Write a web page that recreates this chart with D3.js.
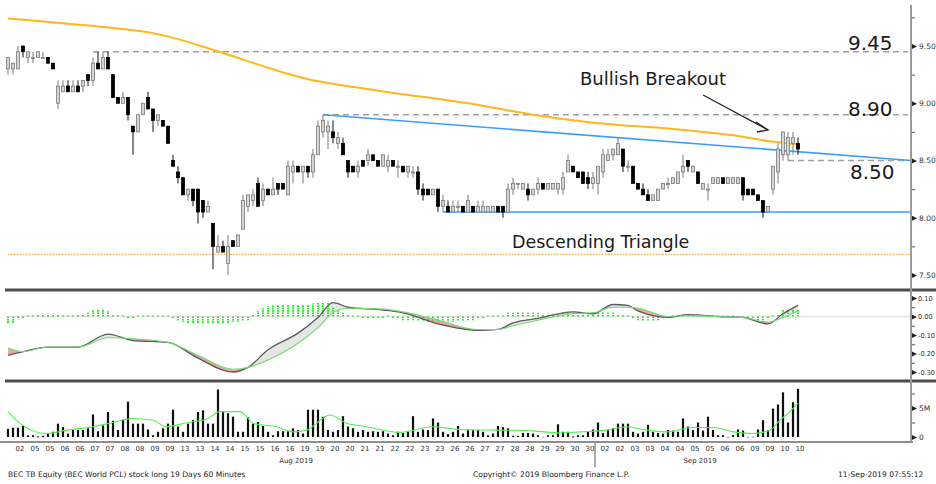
<!DOCTYPE html>
<html>
<head>
<meta charset="utf-8">
<script src="https://cdn.jsdelivr.net/npm/d3@7"></script>
<style>
  body { margin: 0; background: #fff; }
  svg { display: block; }
  text { font-family: "DejaVu Sans", sans-serif; }
</style>
</head>
<body>
<svg id="chart"></svg>
<script>
// 60 minute bars, BEC TB, 02-Aug-2019 .. 10-Sep-2019
const openP = [9.30,9.30,9.30,9.50,9.40,9.40,9.40,9.40,9.40,9.35,
  9.00,9.10,9.15,9.10,9.15,9.15,9.25,9.20,9.35,9.30,
  9.40,9.25,9.05,9.00,9.05,8.80,8.75,8.90,9.05,8.95,
  8.85,8.85,8.80,8.50,8.40,8.35,8.20,8.25,8.25,8.15,
  8.05,7.95,7.70,7.75,7.60,7.80,7.75,7.90,8.10,8.15,
  8.30,8.15,8.25,8.20,8.30,8.30,8.20,8.40,8.45,8.40,
  8.45,8.40,8.55,8.75,8.75,8.75,8.65,8.65,8.50,8.45,
  8.40,8.50,8.50,8.55,8.50,8.45,8.45,8.50,8.45,8.45,
  8.40,8.40,8.40,8.25,8.25,8.20,8.25,8.10,8.10,8.05,
  8.10,8.10,8.05,8.10,8.05,8.05,8.05,8.05,8.10,8.10,
  8.05,8.25,8.30,8.25,8.25,8.20,8.25,8.30,8.25,8.25,
  8.25,8.25,8.40,8.45,8.40,8.40,8.35,8.30,8.30,8.40,
  8.50,8.55,8.55,8.60,8.45,8.45,8.30,8.25,8.20,8.15,
  8.15,8.25,8.30,8.30,8.30,8.40,8.50,8.40,8.40,8.25,
  8.25,8.30,8.30,8.35,8.30,8.30,8.30,8.35,8.25,8.25,
  8.20,8.15,8.05,8.25,8.40,8.55,8.55,8.65,8.65];
const highP = [9.40,9.35,9.50,9.50,9.45,9.45,9.45,9.45,9.40,9.35,
  9.20,9.20,9.20,9.20,9.20,9.20,9.25,9.40,9.45,9.45,
  9.45,9.25,9.05,9.10,9.05,8.80,8.90,9.00,9.10,8.95,
  8.90,8.85,8.80,8.55,8.45,8.35,8.25,8.25,8.25,8.15,
  8.15,7.95,7.85,7.80,7.85,7.80,7.85,8.20,8.20,8.25,
  8.35,8.30,8.25,8.35,8.30,8.30,8.50,8.50,8.45,8.45,
  8.45,8.60,8.85,8.90,8.85,8.85,8.75,8.70,8.50,8.45,
  8.50,8.50,8.60,8.55,8.50,8.55,8.55,8.50,8.50,8.45,
  8.45,8.45,8.45,8.30,8.25,8.25,8.25,8.20,8.15,8.15,
  8.15,8.10,8.20,8.10,8.15,8.15,8.10,8.10,8.10,8.10,
  8.30,8.35,8.30,8.30,8.30,8.25,8.35,8.30,8.30,8.30,
  8.30,8.40,8.55,8.45,8.40,8.40,8.40,8.40,8.45,8.60,
  8.60,8.60,8.70,8.60,8.50,8.45,8.30,8.30,8.25,8.20,
  8.25,8.30,8.35,8.35,8.40,8.55,8.50,8.45,8.40,8.30,
  8.30,8.35,8.35,8.35,8.35,8.35,8.35,8.35,8.25,8.25,
  8.20,8.15,8.10,8.45,8.65,8.75,8.75,8.75,8.70];
const lowP = [9.25,9.25,9.30,9.40,9.35,9.35,9.40,9.40,9.35,9.30,
  8.95,9.10,9.10,9.10,9.10,9.10,9.15,9.15,9.30,9.30,
  9.30,9.05,9.00,9.00,8.85,8.55,8.75,8.90,8.95,8.75,
  8.80,8.80,8.65,8.45,8.30,8.20,8.15,8.10,7.95,8.00,
  8.05,7.55,7.70,7.70,7.50,7.75,7.75,7.90,8.05,8.10,
  8.10,8.10,8.20,8.20,8.20,8.25,8.20,8.30,8.40,8.30,
  8.35,8.35,8.55,8.70,8.60,8.65,8.60,8.55,8.35,8.40,
  8.35,8.45,8.45,8.50,8.45,8.45,8.40,8.45,8.35,8.40,
  8.35,8.35,8.20,8.15,8.20,8.20,8.05,8.05,8.05,8.05,
  8.05,8.05,8.05,8.05,8.05,8.05,8.05,8.05,8.05,8.00,
  8.05,8.20,8.25,8.25,8.15,8.20,8.20,8.25,8.25,8.25,
  8.20,8.20,8.40,8.40,8.35,8.30,8.25,8.25,8.20,8.35,
  8.50,8.50,8.55,8.40,8.40,8.30,8.25,8.20,8.15,8.15,
  8.15,8.25,8.25,8.30,8.30,8.35,8.40,8.40,8.30,8.25,
  8.15,8.30,8.30,8.30,8.30,8.30,8.30,8.15,8.20,8.20,
  8.15,8.00,8.05,8.20,8.30,8.50,8.50,8.55,8.55];
const closeP = [9.40,9.35,9.45,9.45,9.45,9.40,9.45,9.40,9.35,9.30,
  9.15,9.15,9.10,9.15,9.10,9.20,9.20,9.35,9.30,9.40,
  9.30,9.05,9.00,9.05,8.90,8.75,8.90,9.00,8.95,8.85,
  8.90,8.80,8.65,8.45,8.35,8.20,8.25,8.15,8.05,8.05,
  8.10,7.75,7.75,7.70,7.75,7.75,7.85,8.15,8.20,8.20,
  8.10,8.25,8.20,8.25,8.25,8.25,8.45,8.45,8.40,8.45,
  8.40,8.55,8.80,8.85,8.80,8.70,8.70,8.55,8.40,8.40,
  8.45,8.45,8.55,8.50,8.45,8.55,8.50,8.45,8.45,8.40,
  8.45,8.40,8.25,8.20,8.20,8.25,8.10,8.15,8.05,8.10,
  8.10,8.05,8.15,8.05,8.10,8.10,8.10,8.10,8.05,8.05,
  8.25,8.30,8.30,8.30,8.20,8.25,8.30,8.25,8.30,8.30,
  8.30,8.35,8.50,8.40,8.35,8.30,8.30,8.35,8.45,8.55,
  8.55,8.60,8.65,8.45,8.45,8.30,8.25,8.20,8.15,8.20,
  8.25,8.30,8.30,8.35,8.40,8.45,8.45,8.45,8.30,8.30,
  8.25,8.35,8.35,8.30,8.35,8.35,8.35,8.20,8.20,8.20,
  8.15,8.05,8.10,8.45,8.60,8.75,8.70,8.70,8.60];

// volume, millions
const volume = [1.4,1.6,1.6,1.9,0.3,0.3,0.1,0.2,0.6,0.9,
  2.3,1.7,0.6,1.2,1.2,1.2,1.5,3.9,1.0,2.0,
  4.3,2.8,1.2,3.0,6.1,2.3,2.3,2.3,1.3,0.3,
  0.9,1.5,2.3,4.7,1.8,0.9,2.3,2.9,4.3,4.6,
  2.3,2.3,8.2,4.3,4.1,3.5,0.9,0.9,3.4,2.3,
  2.6,1.9,0.9,0.3,1.0,1.0,1.0,1.5,1.2,0.6,
  4.7,4.7,4.7,3.5,1.2,0.9,1.2,3.6,1.8,1.5,
  0.9,1.2,0.9,1.0,0.9,1.0,0.6,0.3,0.9,
  0.7,0.9,3.6,0.9,1.3,1.2,3.2,2.5,0.9,0.5,
  0.9,1.9,0.6,1.2,1.2,1.2,0.9,0.3,0.6,1.9,
  1.7,1.5,0.2,0.2,0.7,0.7,0.6,0.3,0.05,0.3,
  0.3,2.2,0.9,0.9,0.1,0.3,0.3,0.9,1.3,2.5,
  0.7,1.2,1.5,2.3,2.3,2.3,0.9,0.6,0.9,2.1,
  0.9,0.7,0.6,1.2,1.1,0.9,3.2,1.8,1.2,2.5,
  1.1,3.5,1.2,0.3,0.3,0.05,0.3,1.3,1.1,0.05,
  0.05,1.3,2.9,1.2,4.9,5.6,7.7,2.5,6.0,8.3];

// MACD histogram, one per bar
const macdHist = [-0.04,-0.035,-0.015,-0.01,0,0,0.015,0.015,0.015,0.015,
  0.015,0,0,0.005,0.015,0.015,0.02,0.035,0.04,0.04,
  0.03,0.01,0.01,0.005,-0.01,-0.01,-0.005,0,0,0,
  0,0,0,-0.01,-0.025,-0.03,-0.035,-0.035,-0.04,-0.04,
  -0.04,-0.04,-0.035,-0.035,-0.035,-0.03,-0.03,-0.025,-0.02,0.015,
  0.03,0.045,0.055,0.06,0.065,0.065,0.065,0.065,0.065,0.065,
  0.065,0.07,0.075,0.08,0.075,0.05,0.04,0.02,0.01,-0.005,
  -0.005,-0.01,-0.01,-0.01,-0.01,-0.01,-0.005,-0.01,-0.015,-0.02,
  -0.02,-0.02,-0.025,-0.025,-0.03,-0.03,-0.03,-0.03,-0.03,-0.03,
  -0.025,-0.025,-0.02,-0.02,-0.015,-0.01,-0.005,0,0,0.005,
  0.02,0.02,0.025,0.02,0.02,0.02,0.02,0.015,0.015,0.015,
  0.015,0.02,0.02,0.02,0.02,0.02,0.025,0.025,0.025,0.025,
  0.02,0.02,0.015,0.01,0.005,-0.01,-0.02,-0.025,-0.025,-0.025,
  -0.02,-0.015,-0.01,0,0.005,0.005,0.005,0.005,0,0,
  0,0,0,-0.005,-0.005,-0.005,-0.01,-0.015,-0.015,-0.02,
  -0.02,-0.02,-0.015,-0.005,0.01,0.035,0.04,0.045,0.04];

// MACD and signal lines, read at bar positions
const macdIdx = [0,3,8,14,20,25,32,38,45,48,52,58,62,65,68,75,79,86,94,98,101,106,113,117,121,124,126,132,136,142,147,152,155,158];
const macdLine = [-0.21,-0.19,-0.165,-0.165,-0.095,-0.13,-0.14,-0.225,-0.30,-0.275,-0.18,-0.09,-0.005,0.075,0.05,0.035,0.02,-0.04,-0.075,-0.07,-0.035,-0.01,0.025,0.015,0.065,0.06,0.03,-0.005,0.01,0,-0.005,-0.04,0.015,0.06];
const signalLine = [-0.17,-0.19,-0.165,-0.165,-0.115,-0.12,-0.14,-0.21,-0.285,-0.275,-0.235,-0.145,-0.06,0.02,0.045,0.04,0.025,-0.02,-0.07,-0.07,-0.05,-0.02,0.015,0.02,0.05,0.05,0.045,0,0.005,0,-0.005,-0.03,-0.005,0.03];

// moving averages
const maIdx = [0,18,28,34,40,45,52,60,74,92,105,115,122,132,145,152,158];
const maVal = [9.74,9.67,9.62,9.56,9.48,9.41,9.31,9.21,9.11,9.00,8.90,8.84,8.81,8.78,8.72,8.67,8.64];
const volMaIdx = [0,2.4,7.7,11.7,17,20.4,25,29,31.7,35.7,39.7,42.4,46.4,47.7,49,53.7,57,59.7,64.4,67.7,71.7,78.4,85,90.4,98.4,105,110.4,114.4,119.7,123.7,127.7,131.7,137,141,145,149,152.4,154.4,156.4,158];
const volMaVal = [4.37,2.36,0.6,1.18,1.78,2.36,3.2,2.9,1.78,2.47,3.05,4.37,4.37,3.5,2.36,1.78,0.89,1.18,3.8,2.36,1.78,0.8,1.78,1.3,1.18,1.06,0.7,0.89,1.18,1.78,1.18,0.89,1.64,1.64,0.89,0.6,1.18,2.9,4.37,5.8];

// drawn studies
const levelVal = [9.45, 8.90, 8.50];
const levelStart = [17, 63, 156];
const resistIdx = [63, 180.6];
const resistVal = [8.90, 8.50];
const supportIdx = [87, 180.6];
const supportVal = [8.05, 8.05];
const lowLine = 7.68;

// axes
const priceTicks = [7.5, 8.0, 8.5, 9.0, 9.5];
const priceMinor = [7.75, 8.25, 8.75, 9.25, 9.75];
const macdTicks = [-0.3, -0.2, -0.1, 0, 0.1];
const macdMinor = [-0.25, -0.15, -0.05, 0.05];
const volTicks = [0, 5];
const volMinor = [2.5, 7.5];
const xLabels = ["02","05","05","06","06","07","07","08","08","09","09","13","13","14","14","15","15","16","16","19","19","20","20","21","21","22","22","23","23","26","26","27","27","28","28","29","29","30","30",
  "02","02","03","03","04","04","05","05","06","06","09","09","10","10"];
const monthLabels = ["Aug 2019", "Sep 2019"];
const monthIdx = [57.6, 138.4];

const W = 936, H = 484, axisX = 911;

const svg = d3.select('#chart').attr('width', W).attr('height', H);

const x = d3.scaleLinear().domain([0, 158]).range([8, 798]);
const y = d3.scaleLinear().domain([7.5, 9.5]).range([275, 46]);
const yM = d3.scaleLinear().domain([-0.3, 0.1]).range([372, 298]);
const yV = d3.scaleLinear().domain([0, 5]).range([437, 408]);

const defs = svg.append('defs');
defs.append('clipPath').attr('id', 'clipMain')
  .append('rect').attr('x', 0).attr('y', 0).attr('width', axisX).attr('height', 288);

// ---------- main panel ----------
const main = svg.append('g').attr('clip-path', 'url(#clipMain)');

main.append('line')
  .attr('x1', 8).attr('x2', axisX)
  .attr('y1', y(lowLine)).attr('y2', y(lowLine))
  .attr('stroke', '#ffa726').attr('stroke-width', 1.2)
  .attr('stroke-dasharray', '1.5,1.5');

levelVal.forEach((v, k) => {
  main.append('line')
    .attr('x1', x(levelStart[k])).attr('x2', x(180))
    .attr('y1', y(v)).attr('y2', y(v))
    .attr('stroke', '#a0a0a0').attr('stroke-width', 1.6)
    .attr('stroke-dasharray', '6,4');
});

const straight = d3.line().x(d => x(d[0])).y(d => y(d[1]));
main.append('path')
  .datum(resistIdx.map((d, k) => [d, resistVal[k]]))
  .attr('fill', 'none').attr('stroke', '#3d9bff').attr('stroke-width', 1.6)
  .attr('d', straight);
main.append('path')
  .datum(supportIdx.map((d, k) => [d, supportVal[k]]))
  .attr('fill', 'none').attr('stroke', '#3d9bff').attr('stroke-width', 1.6)
  .attr('d', straight);

main.append('path')
  .datum(maIdx.map((d, k) => [d, maVal[k]]))
  .attr('fill', 'none').attr('stroke', '#ffb81c').attr('stroke-width', 2)
  .attr('d', d3.line().curve(d3.curveCatmullRom).x(d => x(d[0])).y(d => y(d[1])));

// candles
const bars = d3.range(openP.length);
const isUp = i => closeP[i] >= openP[i];
const candles = main.append('g').selectAll('g').data(bars).join('g');
candles.append('line')
  .attr('x1', i => x(i)).attr('x2', i => x(i))
  .attr('y1', i => y(highP[i])).attr('y2', i => y(lowP[i]))
  .attr('stroke', i => isUp(i) ? '#7a7a7a' : '#111')
  .attr('stroke-width', 1);
candles.append('rect')
  .attr('x', i => x(i) - 1.5)
  .attr('width', 3)
  .attr('y', i => y(Math.max(openP[i], closeP[i])))
  .attr('height', i => Math.max(1, Math.abs(y(openP[i]) - y(closeP[i]))))
  .attr('fill', i => isUp(i) ? '#d4d4d4' : '#000')
  .attr('stroke', i => isUp(i) ? '#7a7a7a' : '#000')
  .attr('stroke-width', 0.8);

// annotations
const ann = svg.append('g').attr('fill', '#1a1a1a')
  .style('font-family', '"Liberation Sans", Arial, sans-serif');
ann.append('text').attr('x', 848).attr('y', 50).style('font-size', '20px').text('9.45');
ann.append('text').attr('x', 848).attr('y', 116).style('font-size', '20px').text('8.90');
ann.append('text').attr('x', 850).attr('y', 179).style('font-size', '20px').text('8.50');
ann.append('text').attr('x', 580).attr('y', 85).style('font-size', '18px').text('Bullish Breakout');
ann.append('text').attr('x', 512).attr('y', 248).style('font-size', '17.5px').text('Descending Triangle');

const arrow = svg.append('g').attr('stroke', '#222').attr('stroke-width', 1.3).attr('fill', 'none');
arrow.append('line').attr('x1', 703).attr('y1', 95).attr('x2', 768).attr('y2', 130);
arrow.append('polyline').attr('points', '756,122 768,130 757,132');

// ---------- MACD panel ----------
const macd = svg.append('g');
macd.append('line')
  .attr('x1', 8).attr('x2', axisX)
  .attr('y1', yM(0)).attr('y2', yM(0))
  .attr('stroke', '#e4e4e4').attr('stroke-width', 1.5);

const mPts = macdIdx.map((d, k) => ({ i: d, m: macdLine[k], s: signalLine[k] }));
const curve = d3.curveMonotoneX;

defs.append('clipPath').attr('id', 'clipAbove')
  .append('path').datum(mPts)
  .attr('d', d3.area().curve(curve).x(d => x(d.i)).y0(293).y1(d => yM(d.s)));
defs.append('clipPath').attr('id', 'clipBelow')
  .append('path').datum(mPts)
  .attr('d', d3.area().curve(curve).x(d => x(d.i)).y0(d => yM(d.s)).y1(379));

const between = d3.area().curve(curve).x(d => x(d.i)).y0(d => yM(d.s)).y1(d => yM(d.m));
macd.append('path').datum(mPts).attr('d', between)
  .attr('fill', '#e6e6e6').attr('clip-path', 'url(#clipAbove)');
macd.append('path').datum(mPts).attr('d', between)
  .attr('fill', '#f5a3a3').attr('clip-path', 'url(#clipBelow)');

macd.append('g').selectAll('line').data(bars).join('line')
  .attr('x1', i => x(i)).attr('x2', i => x(i))
  .attr('y1', yM(0))
  .attr('y2', i => {
    const yy = yM(macdHist[i]);
    return Math.abs(yy - yM(0)) < 1 ? yM(0) - 1 : yy;
  })
  .attr('stroke', '#1ef01e').attr('stroke-width', 2)
  .attr('stroke-dasharray', '1.6,0.8');

macd.append('path').datum(mPts)
  .attr('fill', 'none').attr('stroke', '#5a5a5a').attr('stroke-width', 1.3)
  .attr('d', d3.line().curve(curve).x(d => x(d.i)).y(d => yM(d.m)));
macd.append('path').datum(mPts)
  .attr('fill', 'none').attr('stroke', '#6fdc6f').attr('stroke-width', 1.1)
  .attr('d', d3.line().curve(curve).x(d => x(d.i)).y(d => yM(d.s)));

// ---------- volume panel ----------
const vol = svg.append('g');
vol.append('g').selectAll('rect').data(bars).join('rect')
  .attr('x', i => x(i) - 1.1)
  .attr('width', 2.2)
  .attr('y', i => yV(volume[i]))
  .attr('height', i => Math.max(1, yV(0) - yV(volume[i])))
  .attr('fill', i => volume[i] < 0.1 ? '#999' : '#111');

vol.append('path')
  .datum(volMaIdx.map((d, k) => [d, volMaVal[k]]))
  .attr('fill', 'none').attr('stroke', '#4ef04e').attr('stroke-width', 1.1)
  .attr('d', d3.line().curve(d3.curveMonotoneX).x(d => x(d[0])).y(d => yV(d[1])));

// ---------- frame and separators ----------
svg.append('line').attr('x1', 5).attr('x2', W).attr('y1', 290).attr('y2', 290)
  .attr('stroke', '#4d4d4d').attr('stroke-width', 3);
svg.append('line').attr('x1', 5).attr('x2', W).attr('y1', 381).attr('y2', 381)
  .attr('stroke', '#4d4d4d').attr('stroke-width', 3);
svg.append('line').attr('x1', 0).attr('x2', axisX + 2).attr('y1', 442).attr('y2', 442)
  .attr('stroke', '#8f8f8f').attr('stroke-width', 2);
svg.append('line').attr('x1', axisX).attr('x2', axisX).attr('y1', 5).attr('y2', 443)
  .attr('stroke', '#9a9a9a').attr('stroke-width', 2);

// right axes
function rightAxis(scale, major, minor, fmt, size, pad) {
  const g = svg.append('g').attr('transform', `translate(${axisX + 1},0)`);
  g.call(d3.axisRight(scale).tickValues(major).tickSize(0).tickPadding(pad).tickFormat(fmt))
    .call(g => g.select('.domain').remove())
    .call(g => g.selectAll('text').attr('fill', '#333').style('font-size', size)
      .style('font-family', '"DejaVu Sans", sans-serif'));
  g.selectAll('.tick').append('path').attr('d', 'M0,-2.5L5,0L0,2.5Z').attr('fill', '#222');
  const m = svg.append('g').attr('transform', `translate(${axisX + 1},0)`);
  m.call(d3.axisRight(scale).tickValues(minor).tickSize(3).tickFormat(''))
    .call(g => g.select('.domain').remove())
    .call(g => g.selectAll('line').attr('stroke', '#555'));
}
rightAxis(y, priceTicks, priceMinor, d => d.toFixed(2), '7.5px', 7);
rightAxis(yM, macdTicks, macdMinor, d => d.toFixed(2), '6.6px', 6);
rightAxis(yV, volTicks, volMinor, d => d === 0 ? '0' : d + 'M', '7.5px', 7);

// bottom axis labels
const xl = svg.append('g').style('font-size', '7px').attr('fill', '#333');
xl.selectAll('text').data(xLabels).join('text')
  .attr('x', (d, k) => x(3 * k + 2.4))
  .attr('y', 451)
  .attr('text-anchor', 'middle')
  .text(d => d);
xl.selectAll('.month').data(monthLabels).join('text')
  .attr('class', 'month')
  .attr('x', (d, k) => x(monthIdx[k]))
  .attr('y', 463)
  .attr('text-anchor', 'middle')
  .text(d => d);
svg.append('line').attr('x1', x(117.4)).attr('x2', x(117.4)).attr('y1', 443).attr('y2', 467)
  .attr('stroke', '#8f8f8f').attr('stroke-width', 1.5);

// footer
const foot = svg.append('g').style('font-size', '7.6px').attr('fill', '#222');
foot.append('text').attr('x', 8).attr('y', 477).text('BEC TB Equity (BEC World PCL) stock long 19 Days 60 Minutes');
foot.append('text').attr('x', 473).attr('y', 477).text('Copyright\u00a9 2019 Bloomberg Finance L.P.');
foot.append('text').attr('x', 838).attr('y', 477).text('11-Sep-2019 07:55:12');
</script>
</body>
</html>
